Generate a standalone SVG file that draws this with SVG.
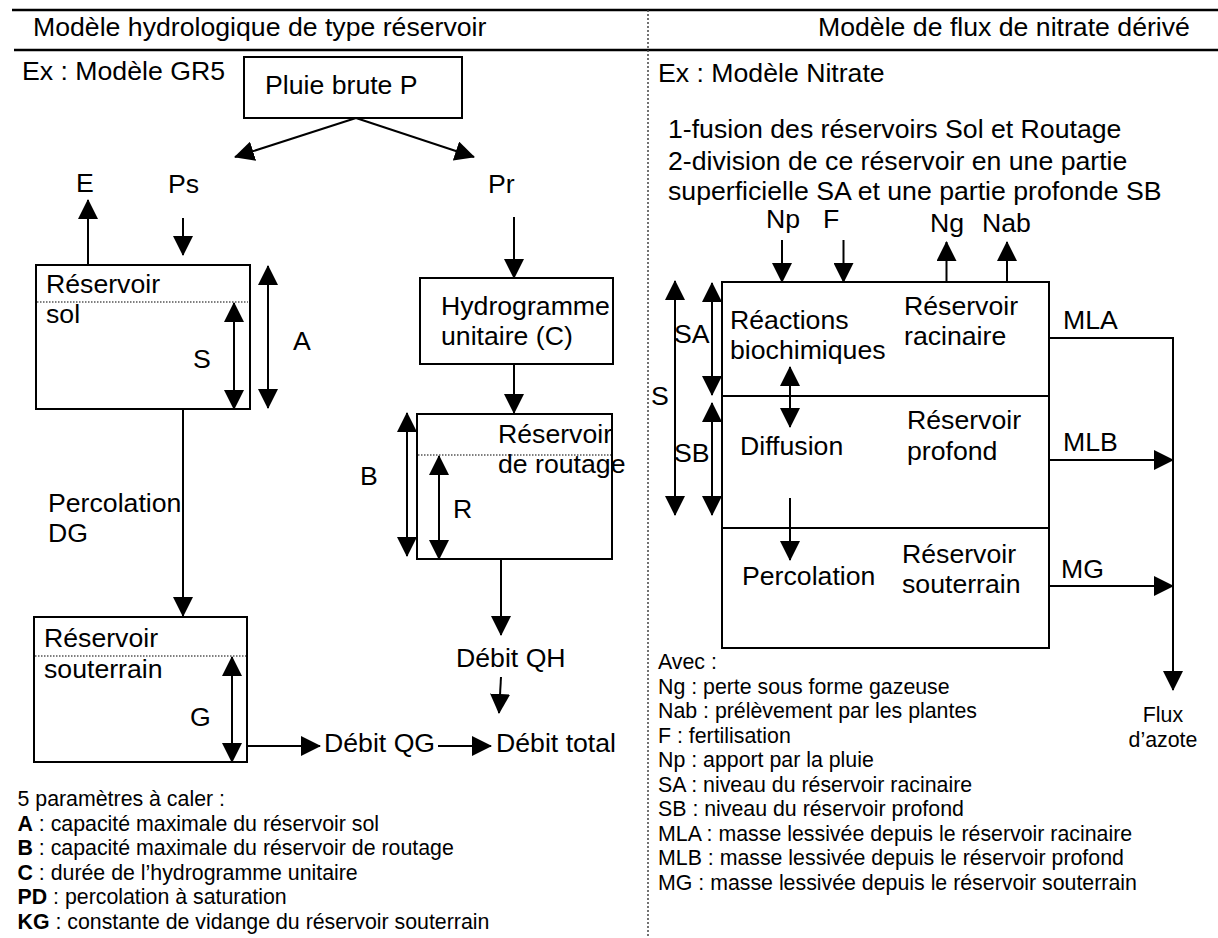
<svg xmlns="http://www.w3.org/2000/svg" width="1218" height="938" viewBox="0 0 1218 938">
<style>
text{font-family:"Liberation Sans",Arial,sans-serif;fill:#000}
.t{font-size:26.67px}
.s{font-size:21.33px}
.box{fill:#fff;stroke:#000;stroke-width:2}
.dot{stroke:#000;stroke-width:1.2;stroke-dasharray:1.5 1.5;fill:none}
.rule{stroke:#000;stroke-width:2.5}
.c{stroke:#000;stroke-width:2;fill:none}
.a{marker-end:url(#ah)}
.d{marker-start:url(#ah);marker-end:url(#ah)}
</style>
<defs>
<marker id="ah" markerUnits="userSpaceOnUse" markerWidth="20" markerHeight="20" refX="19" refY="10" orient="auto-start-reverse">
<path d="M0,0 L20,10 L0,20 z" fill="#000"/>
</marker>
</defs>
<rect width="1218" height="938" fill="#fff"/>

<g id="header">
<line class="rule" x1="12" y1="10" x2="1218" y2="10"/>
<line class="rule" x1="14" y1="50" x2="1218" y2="50"/>
<line x1="648" y1="10" x2="648" y2="938" stroke="#444" stroke-width="1.5" stroke-dasharray="2 2"/>
<text class="t" x="33" y="36">Modèle hydrologique de type réservoir</text>
<text class="t" x="818" y="36">Modèle de flux de nitrate dérivé</text>
<text class="t" x="22" y="80">Ex : Modèle GR5</text>
<text class="t" x="658" y="82">Ex : Modèle Nitrate</text>
</g>

<g id="pluie">
<rect class="box" x="244" y="57" width="218" height="61"/>
<text class="t" x="265" y="94">Pluie brute P</text>
</g>

<g id="labels-left">
<text class="t" x="76" y="192">E</text>
<text class="t" x="168" y="193">Ps</text>
<text class="t" x="488" y="193">Pr</text>
<text class="t" x="48" y="512">Percolation</text>
<text class="t" x="48" y="542">DG</text>
<text class="t" x="456" y="667">Débit QH</text>
<text class="t" x="324" y="752">Débit QG</text>
<text class="t" x="496" y="752">Débit total</text>
</g>

<g id="reservoir-sol">
<rect class="box" x="36" y="265" width="214" height="144"/>
<line class="dot" x1="37" y1="302" x2="248" y2="302"/>
<text class="t" x="46" y="293">Réservoir</text>
<text class="t" x="46" y="323">sol</text>
<text class="t" x="193" y="368">S</text>
<text class="t" x="293" y="350">A</text>
</g>

<g id="hydrogramme">
<rect class="box" x="420" y="278" width="193" height="86"/>
<text class="t" x="441" y="315">Hydrogramme</text>
<text class="t" x="441" y="345">unitaire (C)</text>
</g>

<g id="reservoir-routage">
<rect class="box" x="417" y="414" width="195" height="145"/>
<line class="dot" x1="418" y1="455" x2="611" y2="455"/>
<text class="t" x="498" y="443">Réservoir</text>
<text class="t" x="498" y="473">de routage</text>
<text class="t" x="360" y="485">B</text>
<text class="t" x="453" y="518">R</text>
</g>

<g id="reservoir-souterrain">
<rect class="box" x="34" y="617" width="213" height="145"/>
<line class="dot" x1="35" y1="656" x2="246" y2="656"/>
<text class="t" x="44" y="647">Réservoir</text>
<text class="t" x="44" y="678">souterrain</text>
<text class="t" x="190" y="726">G</text>
</g>

<g id="legend-left">
<text class="s" x="17.5" y="806">5 paramètres à caler :</text>
<text class="s" x="17.5" y="830.5"><tspan font-weight="bold">A</tspan> : capacité maximale du réservoir sol</text>
<text class="s" x="17.5" y="855"><tspan font-weight="bold">B</tspan> : capacité maximale du réservoir de routage</text>
<text class="s" x="17.5" y="879.5"><tspan font-weight="bold">C</tspan> : durée de l’hydrogramme unitaire</text>
<text class="s" x="17.5" y="904"><tspan font-weight="bold">PD</tspan> : percolation à saturation</text>
<text class="s" x="17.5" y="928.5"><tspan font-weight="bold">KG</tspan> : constante de vidange du réservoir souterrain</text>
</g>

<g id="intro-right">
<text class="t" x="668" y="138">1-fusion des réservoirs Sol et Routage</text>
<text class="t" x="668" y="170">2-division de ce réservoir en une partie</text>
<text class="t" x="668" y="200">superficielle SA et une partie profonde SB</text>
<text class="t" x="766" y="228">Np</text>
<text class="t" x="823" y="228">F</text>
<text class="t" x="930" y="232">Ng</text>
<text class="t" x="982" y="232">Nab</text>
</g>

<g id="reservoir-nitrate">
<rect class="box" x="722" y="282" width="327" height="366"/>
<line class="c" x1="722" y1="396" x2="1049" y2="396"/>
<line class="c" x1="722" y1="528" x2="1049" y2="528"/>
<text class="t" x="730" y="329">Réactions</text>
<text class="t" x="730" y="359">biochimiques</text>
<text class="t" x="904" y="315">Réservoir</text>
<text class="t" x="904" y="345">racinaire</text>
<text class="t" x="740" y="455">Diffusion</text>
<text class="t" x="907" y="429">Réservoir</text>
<text class="t" x="907" y="460">profond</text>
<text class="t" x="742" y="585">Percolation</text>
<text class="t" x="902" y="563">Réservoir</text>
<text class="t" x="902" y="593">souterrain</text>
<text class="t" x="651" y="405">S</text>
<text class="t" x="674" y="343">SA</text>
<text class="t" x="674" y="462">SB</text>
<text class="t" x="1063" y="329">MLA</text>
<text class="t" x="1063" y="451">MLB</text>
<text class="t" x="1061" y="578">MG</text>
</g>

<g id="flux-azote">
<text class="s" x="1163" y="722" text-anchor="middle">Flux</text>
<text class="s" x="1163" y="747" text-anchor="middle">d’azote</text>
</g>

<g id="legend-right">
<text class="s" x="658" y="669">Avec :</text>
<text class="s" x="658" y="693.5">Ng : perte sous forme gazeuse</text>
<text class="s" x="658" y="718">Nab : prélèvement par les plantes</text>
<text class="s" x="658" y="742.5">F : fertilisation</text>
<text class="s" x="658" y="767">Np : apport par la pluie</text>
<text class="s" x="658" y="791.5">SA : niveau du réservoir racinaire</text>
<text class="s" x="658" y="816">SB : niveau du réservoir profond</text>
<text class="s" x="658" y="840.5">MLA : masse lessivée depuis le réservoir racinaire</text>
<text class="s" x="658" y="865">MLB : masse lessivée depuis le réservoir profond</text>
<text class="s" x="658" y="889.5">MG : masse lessivée depuis le réservoir souterrain</text>
</g>

<g id="connectors">
<line class="c a" x1="356" y1="118" x2="235" y2="157"/>
<line class="c a" x1="356" y1="118" x2="474" y2="157"/>
<line class="c a" x1="88" y1="265" x2="88" y2="200"/>
<line class="c a" x1="183" y1="218" x2="183" y2="255"/>
<line class="c a" x1="514" y1="217" x2="514" y2="278"/>
<line class="c d" x1="234" y1="303" x2="234" y2="409"/>
<line class="c d" x1="268" y1="266" x2="268" y2="408"/>
<line class="c a" x1="183" y1="409" x2="183" y2="616"/>
<line class="c a" x1="514" y1="364" x2="514" y2="413"/>
<line class="c d" x1="407" y1="413" x2="407" y2="556"/>
<line class="c d" x1="439" y1="456" x2="439" y2="559"/>
<line class="c a" x1="501" y1="559" x2="501" y2="635"/>
<line class="c a" x1="501" y1="677" x2="499" y2="713"/>
<line class="c d" x1="232" y1="657" x2="232" y2="762"/>
<line class="c a" x1="247" y1="746" x2="320" y2="746"/>
<line class="c a" x1="438" y1="746" x2="491" y2="746"/>
<line class="c a" x1="782" y1="240" x2="782" y2="282"/>
<line class="c a" x1="843.5" y1="240" x2="843.5" y2="282"/>
<line class="c a" x1="946.5" y1="282" x2="946.5" y2="242"/>
<line class="c a" x1="1007" y1="282" x2="1007" y2="242"/>
<line class="c d" x1="675" y1="281" x2="675" y2="515"/>
<line class="c d" x1="712" y1="283" x2="712" y2="395"/>
<line class="c d" x1="712" y1="403" x2="712" y2="515"/>
<line class="c d" x1="790" y1="367" x2="790" y2="427"/>
<line class="c a" x1="790" y1="498" x2="790" y2="560"/>
<path class="c a" d="M1049,338 H1173 V690"/>
<line class="c a" x1="1049" y1="460" x2="1173" y2="460"/>
<line class="c a" x1="1049" y1="586" x2="1173" y2="586"/>
</g>
</svg>
